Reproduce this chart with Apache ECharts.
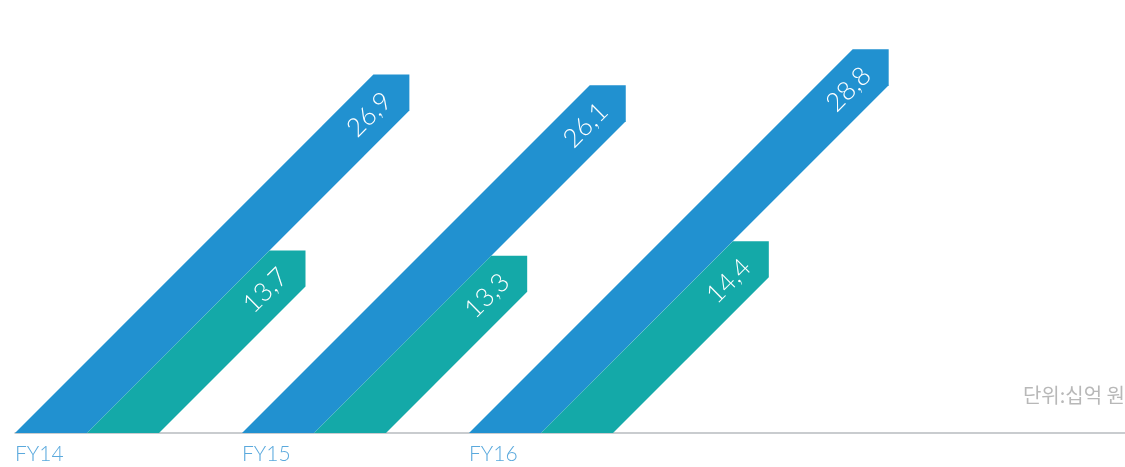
<!DOCTYPE html>
<html>
<head>
<meta charset="utf-8">
<script src="https://cdn.jsdelivr.net/npm/echarts@6/dist/echarts.min.js"></script>
<style>
html,body{margin:0;padding:0;background:#fff;}
#chart{width:1125px;height:467px;}
</style>
</head>
<body>
<div id="chart"></div>
<script>
const categories = ['FY14', 'FY15', 'FY16'];
const totalValues = [26.9, 26.1, 28.8];
const secondValues = [13.7, 13.3, 14.4];
const unitLabel = '단위:십억 원';

const BLUE = '#2191d0';
const TEAL = '#14a9a8';
const BAND = 72;

function fmt(v) { return String(v.toFixed(1)).replace('.', ','); }

function makeRender(color, slot) {
  return function (params, api) {
    const i = api.value(0);
    const v = api.value(1);
    const top = api.coord([i, v]);
    const base = api.coord([i, 0]);
    const yb = base[1], yt = top[1];
    const h = yb - yt;
    const x0 = base[0] + slot * BAND;
    const w = BAND;
    const pts = [
      [x0, yb],
      [x0 + h, yt],
      [x0 + h + w / 2, yt],
      [x0 + h + w / 2, yt + w / 2],
      [x0 + w, yb]
    ];
    const yc = yt + 40;
    const xc = x0 + w / 2 + (yb - yc);
    return {
      type: 'group',
      children: [
        { type: 'polygon', shape: { points: pts }, style: { fill: color } },
        {
          type: 'text',
          x: xc, y: yc, rotation: Math.PI / 4,
          style: {
            text: fmt(v), fill: '#ffffff', align: 'center', verticalAlign: 'middle',
            font: '300 26px Lato, "Noto Sans", sans-serif'
          }
        }
      ]
    };
  };
}

const chart = echarts.init(document.getElementById('chart'), null, { renderer: 'canvas' });
chart.setOption({
  animation: false,
  grid: { left: 15, right: 0, top: 0, bottom: 34, containLabel: false },
  title: {
    text: unitLabel, right: 0, top: 385, padding: 0,
    textStyle: { color: '#b8b8b8', fontSize: 20, fontWeight: 'normal', fontFamily: '"Noto Sans CJK KR", sans-serif' }
  },
  xAxis: {
    type: 'value', min: 0, max: 4.89, interval: 1,
    splitLine: { show: false },
    axisTick: { show: false },
    axisLine: { show: true, lineStyle: { color: '#b8bcc0', width: 1.5 } },
    axisLabel: {
      show: true, align: 'left', margin: 11, color: '#5aa9dd', fontSize: 21,
      fontFamily: 'Lato, "Noto Sans", sans-serif', fontWeight: 300,
      showMaxLabel: false,
      formatter: function (val) { return Number.isInteger(val) && categories[val] ? categories[val] : ''; }
    }
  },
  yAxis: {
    type: 'value', min: 0, max: 32.5, show: false, splitLine: { show: false }
  },
  series: [
    { type: 'custom', name: 'total', renderItem: makeRender(BLUE, 0), data: totalValues.map((v, i) => [i, v]) },
    { type: 'custom', name: 'second', renderItem: makeRender(TEAL, 1), data: secondValues.map((v, i) => [i, v]) }
  ]
});
</script>
</body>
</html>
